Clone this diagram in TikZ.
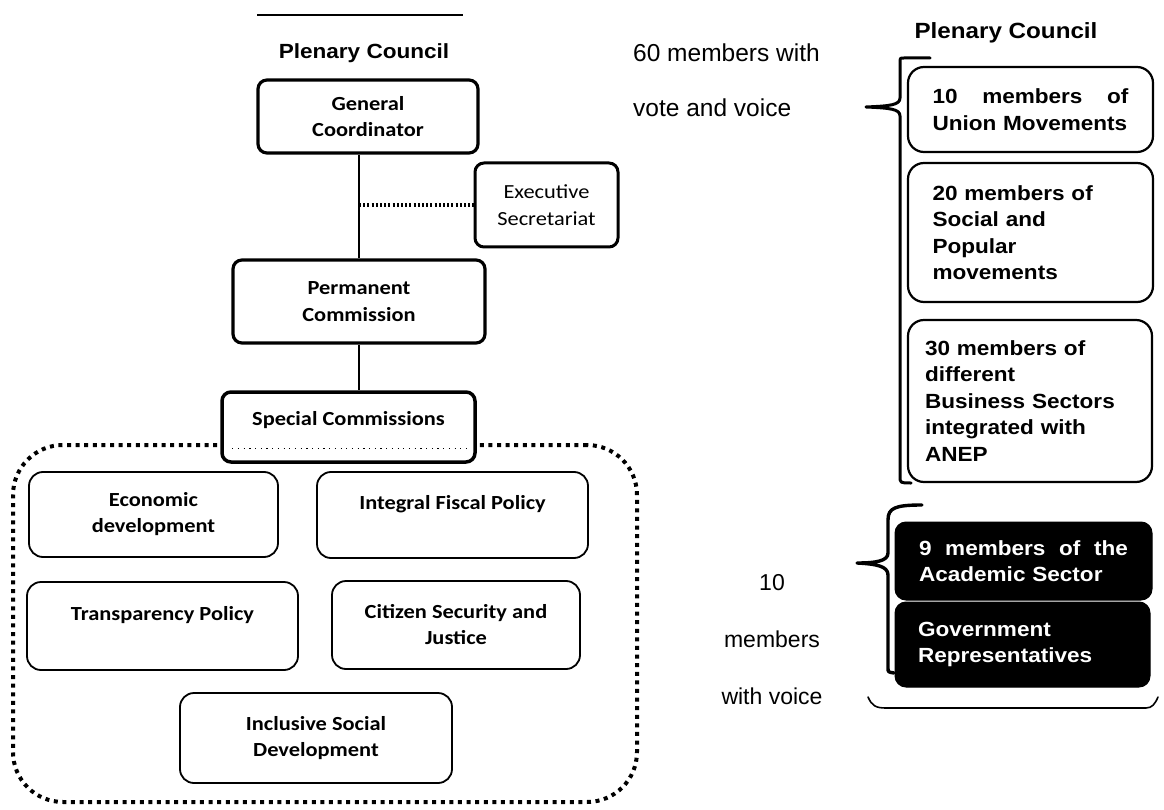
\documentclass[tikz,border=0pt]{standalone}
\usepackage{fontspec}
\newfontfamily\calfont[FakeStretch=1.12]{Carlito}
\newfontfamily\arfont{Liberation Sans}
\newfontfamily\arwfont[FakeStretch=1.1]{Liberation Sans}
\hyphenpenalty=10000
\begin{document}
\begin{tikzpicture}[x=1pt,y=-1pt,
  lbox/.style={draw, fill=white, rounded corners=9pt, line width=3.2pt, align=center, inner sep=0pt, font=\calfont\bfseries\fontsize{20}{26.5}\selectfont},
  ebox/.style={lbox, line width=3pt, font=\calfont\fontsize{20}{26.5}\selectfont},
  cbox/.style={draw, rounded corners=14pt, line width=1.8pt, align=center, inner sep=0pt, font=\calfont\bfseries\fontsize{20}{26}\selectfont},
  wbox/.style={draw, rounded corners=16pt, line width=2.2pt, align=left, inner sep=0pt, font=\arwfont\bfseries\fontsize{20.5}{26.5}\selectfont},
  kbox/.style={wbox, fill=black, text=white, rounded corners=11pt, line width=1pt},
  ttl/.style={font=\arwfont\bfseries\fontsize{20.5}{24}\selectfont, inner sep=0pt},
  ptext/.style={font=\arfont\fontsize{24.5}{55}\selectfont, inner sep=0pt},
  lnk/.style={line width=2.6pt},
  brc/.style={line width=3pt, line cap=round, line join=round},
  grpline/.style={line width=4pt, dash pattern=on 4pt off 4.6pt}
]
\useasboundingbox (0,0) rectangle (1164,810);

% top rule
\draw[line width=1.4pt] (257,15) -- (463,15);

% titles
\node[ttl] (plL) at (364,53) {Plenary Council};
\node[ttl, font=\arwfont\bfseries\fontsize{22}{26}\selectfont] (plR) at (1006,33) {Plenary Council};

% left hierarchy
\node[lbox, minimum width=220pt, minimum height=73pt] (gc) at (368,116.5) {General\\Coordinator};
\node[ebox, minimum width=143pt, minimum height=84pt] (es) at (546.5,205) {Executive\\Secretariat};
\node[lbox, minimum width=252pt, minimum height=83pt] (pc) at (359,301.5) {Permanent\\Commission};

% dotted group region
\node[draw, grpline, rounded corners=50pt, minimum width=624pt, minimum height=357pt, inner sep=0pt] (grp) at (325,623.5) {};

\node[lbox, line width=3.5pt, minimum width=253pt, minimum height=70pt, text height=14pt, text depth=18pt] (sc) at (348.5,427) {Special Commissions};
\draw[line width=0.8pt, dash pattern=on 1.2pt off 4.5pt] ([shift={(12,-15)}]sc.south west) -- ([shift={(-8,-15)}]sc.south east);

% connectors
\draw[lnk] (gc.south -| pc.north) -- (pc.north);
\draw[line width=4pt, dash pattern=on 2pt off 2.2pt] (pc.north |- es.west) -- (es.west);
\draw[lnk] (pc.south) -- (pc.south |- sc.north);

% commissions
\node[cbox, minimum width=249pt, minimum height=85pt] (ed) at (153.5,514.5) {Economic\\development};
\node[cbox, minimum width=271pt, minimum height=86pt] (ifp) at (452.5,515) {Integral Fiscal Policy\\~};
\node[cbox, minimum width=271pt, minimum height=88pt] (tp) at (162.5,626) {Transparency Policy\\~};
\node[cbox, minimum width=248pt, minimum height=88pt] (cs) at (456,625) {Citizen Security and\\Justice};
\node[cbox, minimum width=272pt, minimum height=90pt] (isd) at (316,738) {Inclusive Social\\Development};

% middle texts
\node[ptext, anchor=west, align=left] (vv) at (633,80.5) {60 members with\\vote and voice};
\node[ptext, align=center, font=\arfont\fontsize{23}{57}\selectfont] (wv) at (772,640) {10\\members\\with voice};

% right boxes
\node[wbox, minimum width=245pt, minimum height=85pt, text width=196pt] (b10) at (1030.5,109.5) {\hbox to 196pt{10\hfill members\hfill of}\\Union Movements};
\node[wbox, minimum width=245pt, minimum height=139pt, text width=196pt] (b20) at (1030.5,232.5) {20 members of\\Social and\\Popular\\movements};
\node[wbox, minimum width=244pt, minimum height=162pt, text width=210pt] (b30) at (1030,401) {30 members of\\different\\Business Sectors\\integrated with\\ANEP};
\node[kbox, minimum width=257pt, minimum height=78pt, text width=209pt] (b9) at (1023.5,561) {\hbox to 209pt{9\hfill members\hfill of\hfill the}\\Academic Sector};
\node[kbox, minimum width=255pt, minimum height=85pt, text width=209pt] (gov) at (1022.5,644.5) {Government\\Representatives};

% braces
\draw[brc] (930,58) -- (904,58) .. controls (900,58) .. (900,63) -- (900,98)
  .. controls (900,105) and (890,106) .. (866,107)
  .. controls (890,108) and (900,109) .. (900,116) -- (900,476)
  .. controls (900,483) .. (911,483);
\draw[brc, line width=3.4pt] (922,505) .. controls (895,505) and (888,508) .. (888,520) -- (888,553)
  .. controls (888,561) and (876,563) .. (857,563)
  .. controls (876,564) and (888,566) .. (888,575) -- (888,668)
  .. controls (888,672) .. (894,673);

% bottom bracket
\draw[line width=1.6pt, line cap=round] (868,697) .. controls (872,706) and (876,708) .. (886,708) -- (1146,708) .. controls (1152,708) and (1155,704) .. (1158,697);
\end{tikzpicture}
\end{document}
